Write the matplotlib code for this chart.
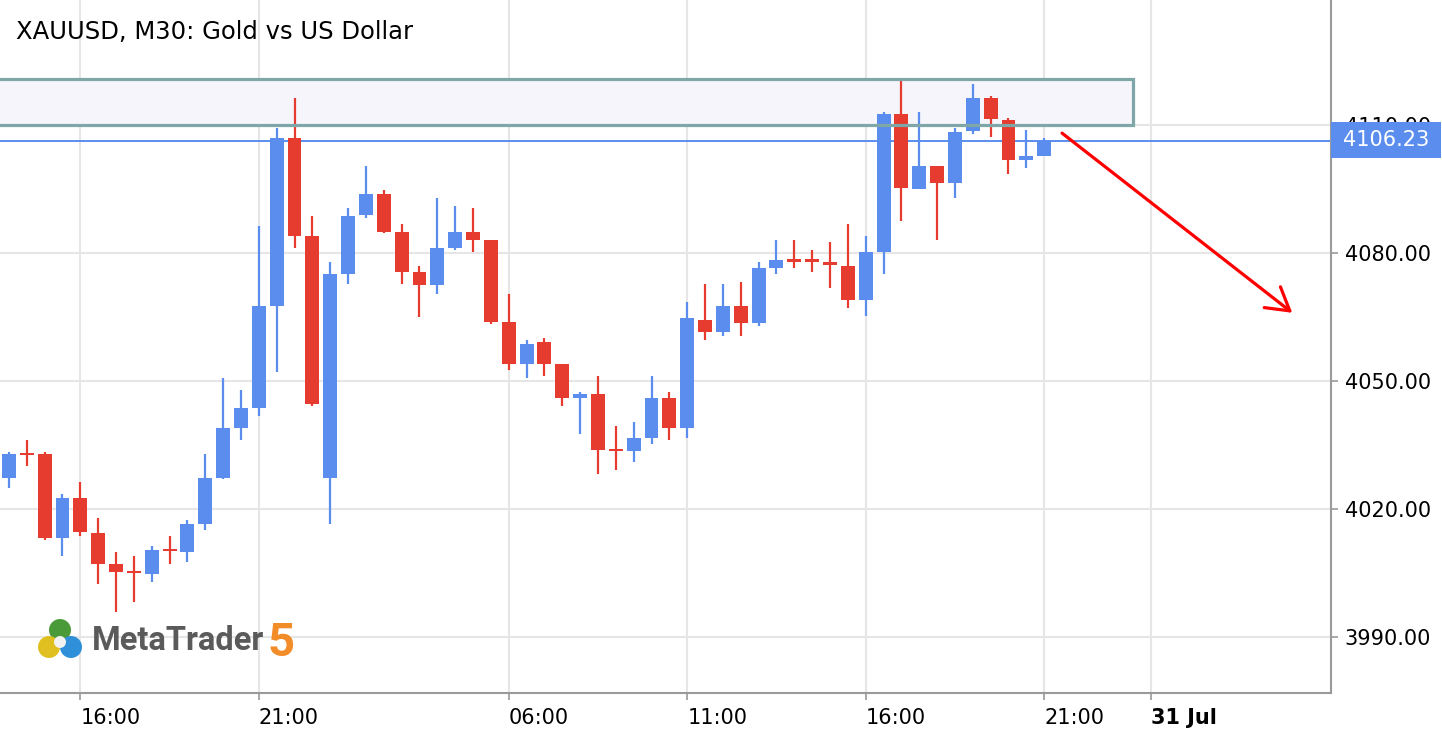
import matplotlib
matplotlib.use("Agg")
import matplotlib.pyplot as plt
from matplotlib.patches import Rectangle, Ellipse
from matplotlib.transforms import blended_transform_factory

# XAUUSD M30 candles
opens = [4027.3, 4032.9, 4032.8, 4013.2, 4022.5, 4014.4, 4007.0, 4005.3, 4004.8, 4010.4,
         4009.9, 4016.5, 4027.3, 4039.0, 4043.7, 4067.6, 4106.9, 4084.0, 4027.3, 4075.1,
         4088.7, 4093.8, 4084.9, 4075.5, 4072.3, 4081.1, 4084.9, 4083.0, 4063.8, 4054.0,
         4059.1, 4053.9, 4046.0, 4046.9, 4033.8, 4033.4, 4036.6, 4045.9, 4038.9, 4064.2,
         4061.5, 4067.5, 4063.4, 4076.5, 4078.3, 4078.2, 4077.9, 4076.9, 4069.0, 4080.2,
         4112.5, 4094.8, 4100.3, 4096.2, 4108.4, 4116.3, 4111.1, 4101.8, 4102.7]
highs = [4033.2, 4036.1, 4033.2, 4023.4, 4026.3, 4017.8, 4009.9, 4008.9, 4011.3, 4013.6,
         4017.4, 4032.8, 4050.7, 4047.8, 4086.3, 4109.3, 4116.3, 4088.6, 4077.8, 4090.5,
         4100.3, 4094.7, 4086.7, 4076.9, 4092.8, 4090.9, 4090.5, 4083.0, 4070.3, 4059.5,
         4060.0, 4053.9, 4047.4, 4051.1, 4039.4, 4040.3, 4051.1, 4047.4, 4068.4, 4072.7,
         4072.7, 4073.1, 4077.8, 4083.0, 4083.0, 4080.6, 4082.5, 4086.7, 4083.9, 4113.0,
         4120.5, 4113.0, 4100.3, 4109.2, 4119.5, 4116.7, 4111.6, 4108.8, 4106.9]
lows = [4024.9, 4030.1, 4012.7, 4009.0, 4013.7, 4002.4, 3995.9, 3998.2, 4002.9, 4007.1,
        4007.6, 4015.1, 4027.0, 4036.2, 4041.8, 4052.1, 4081.2, 4044.1, 4016.5, 4072.7,
        4088.2, 4084.5, 4072.7, 4064.8, 4070.4, 4080.7, 4080.2, 4063.3, 4052.6, 4050.7,
        4051.2, 4044.1, 4037.6, 4028.2, 4029.1, 4031.0, 4035.2, 4036.2, 4036.6, 4059.6,
        4060.5, 4060.5, 4062.9, 4075.1, 4076.5, 4075.5, 4071.8, 4067.1, 4065.2, 4075.1,
        4087.3, 4094.8, 4083.0, 4092.9, 4107.9, 4107.0, 4098.5, 4099.9, 4102.7]
closes = [4032.8, 4032.6, 4013.2, 4022.5, 4014.6, 4007.1, 4005.2, 4004.9, 4010.3, 4010.1,
          4016.4, 4027.2, 4038.9, 4043.6, 4067.5, 4106.9, 4084.0, 4044.6, 4075.1, 4088.6,
          4093.8, 4084.9, 4075.5, 4072.3, 4081.1, 4084.9, 4083.0, 4063.8, 4054.0, 4058.6,
          4054.0, 4046.0, 4046.9, 4033.8, 4033.4, 4036.6, 4045.9, 4039.0, 4064.7, 4061.5,
          4067.5, 4063.4, 4076.4, 4078.3, 4077.9, 4077.9, 4077.0, 4069.0, 4080.2, 4112.5,
          4095.2, 4100.3, 4096.2, 4108.3, 4116.3, 4111.2, 4101.8, 4102.7, 4106.23]

time_ticks = [4, 14, 28, 38, 48, 58, 64]
time_labels = ["16:00", "21:00", "06:00", "11:00", "16:00", "21:00", "31 Jul"]
price_ticks = [3990, 4020, 4050, 4080, 4110]
last_price = 4106.23
zone_low, zone_high, zone_end = 4109.8, 4120.8, 63.0
arrow_start = (59.0, 4108.0)
arrow_end = (71.9, 4065.9)

blue = "#5a8dee"
red = "#e63c30"
grid_c = "#e6e6e6"
axis_c = "#9a9a9a"

W, H = 1442, 740
fig = plt.figure(figsize=(W / 100, H / 100), dpi=100)
ax = fig.add_axes([0.0, 0.0635, 0.9228, 0.9365])
ax.set_xlim(-0.5, 74.05)
ax.set_ylim(3976.8, 4139.2)

# grid
for t in time_ticks:
    ax.axvline(t, color=grid_c, lw=1.5, zorder=0)
for p in price_ticks:
    ax.axhline(p, color=grid_c, lw=1.5, zorder=0)

# resistance zone
ax.add_patch(Rectangle((-5, zone_low), zone_end + 5, zone_high - zone_low,
                       facecolor="#f6f5fb", edgecolor="none", zorder=1))
ax.add_patch(Rectangle((-5, zone_low), zone_end + 5, zone_high - zone_low,
                       facecolor="none", edgecolor="#7fa7a7", lw=2.3, zorder=4))

# current price line
ax.axhline(last_price, color=blue, lw=1.4, zorder=2)

# candles
for i in range(len(opens)):
    o, h, l, c = opens[i], highs[i], lows[i], closes[i]
    col = blue if c >= o else red
    ax.vlines(i, l, h, color=col, lw=1.6, zorder=3)
    ax.bar(i, max(abs(c - o), 0.5), bottom=min(o, c), width=0.78, color=col,
           lw=0, zorder=3)

# arrow
ax.annotate("", xy=arrow_end, xytext=arrow_start,
            arrowprops=dict(arrowstyle="->,head_length=1.6,head_width=0.95",
                            color="#ff0000", lw=2.3, mutation_scale=10,
                            shrinkA=0, shrinkB=0), zorder=5)

# axes styling
for s in ["top", "left"]:
    ax.spines[s].set_visible(False)
ax.spines["right"].set_color(axis_c)
ax.spines["bottom"].set_color(axis_c)
ax.spines["right"].set_linewidth(1.5)
ax.spines["bottom"].set_linewidth(1.5)

ax.set_xticks(time_ticks)
ax.set_xticklabels(time_labels, fontsize=15, ha="left")
ax.get_xticklabels()[-1].set_fontweight("bold")
ax.yaxis.tick_right()
ax.set_yticks(price_ticks)
ax.set_yticklabels(["%.2f" % p for p in price_ticks], fontsize=15)
ax.tick_params(axis="both", color=axis_c, length=5, width=1.2, direction="out")
ax.tick_params(axis="x", pad=6)
ax.tick_params(axis="y", pad=5)

# last price label
tr = blended_transform_factory(ax.transAxes, ax.transData)
ax.add_patch(Rectangle((1.0, 4102.2), 0.0827, 8.4, transform=tr, facecolor=blue,
                       edgecolor="none", clip_on=False, zorder=6))
ax.text(1.0413, 4106.4, "%.2f" % last_price, transform=tr, color="white", fontsize=15,
        ha="center", va="center", zorder=7)

# title
fig.text(16 / W, 1 - 32 / H, "XAUUSD, M30: Gold vs US Dollar", fontsize=17.5,
         ha="left", va="center", color="black")

# MetaTrader logo
for (cx, cy, r, col) in [(60, 630, 11, "#4a9a3a"), (49, 647, 11, "#e0c020"),
                         (71, 647, 11, "#2f8fd8"), (60, 642, 6, "#f2f2f2")]:
    fig.patches.append(Ellipse((cx / W, 1 - cy / H), 2 * r / W, 2 * r / H,
                               transform=fig.transFigure, facecolor=col, edgecolor="none"))
fig.text(92 / W, 1 - 641 / H, "MetaTrader", fontsize=23.5, fontfamily="Roboto",
         fontweight="bold", color="#5a5a5a", ha="left", va="center")
fig.text(268 / W, 1 - 643 / H, "5", fontsize=34, fontfamily="Roboto",
         fontweight="bold", color="#f28c28", ha="left", va="center")

fig.savefig("out.png", dpi=100, facecolor="white")
